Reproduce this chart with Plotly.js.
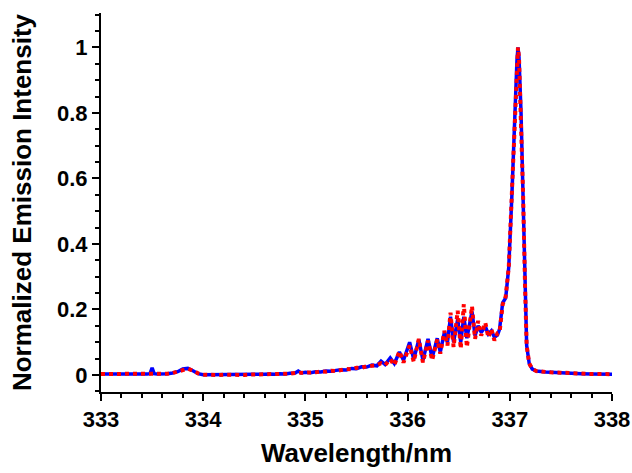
<!DOCTYPE html>
<html>
<head>
<meta charset="utf-8">
<script src="https://cdn.plot.ly/plotly-3.0.1.min.js"></script>
<style>html,body{margin:0;padding:0;background:#fff;}#chart{width:632px;height:473px;}</style>
</head>
<body>
<div id="chart"></div>
<script>
const wavelength = [
333.00,333.05,333.10,333.15,333.20,333.25,333.30,333.35,333.40,333.45,
333.48,333.50,333.52,333.55,333.60,333.65,333.70,333.75,333.80,333.85,
333.90,333.95,334.00,334.05,334.10,334.15,334.20,334.25,334.30,334.35,
334.40,334.45,334.50,334.55,334.60,334.65,334.70,334.75,334.80,334.85,
334.90,334.93,334.96,335.00,335.05,335.10,335.15,335.20,335.25,335.30,
335.35,335.40,335.45,335.50,335.55,335.60,335.65,335.70,335.74,335.78,
335.83,335.87,335.92,335.96,336.02,336.06,336.11,336.15,336.20,336.24,
336.29,336.32,336.36,336.39,336.42,336.45,336.49,336.52,336.55,336.58,
336.63,336.66,336.69,336.72,336.76,336.79,336.82,336.85,336.88,336.90,
336.93,336.96,336.99,337.02,337.05,337.07,337.08,337.09,337.11,337.13,
337.15,337.165,337.19,337.22,337.26,337.30,337.35,337.40,337.50,337.60,
337.70,337.80,337.90,338.00
];
const intensityBlue = [
0.003,0.002,0.003,0.003,0.002,0.003,0.003,0.002,0.003,0.003,
0.004,0.022,0.004,0.003,0.003,0.004,0.006,0.010,0.018,0.020,
0.013,0.004,0.001,0.001,0.001,0.001,0.000,0.001,0.001,0.000,
0.001,0.001,0.001,0.002,0.002,0.003,0.002,0.004,0.003,0.005,
0.006,0.012,0.006,0.008,0.007,0.010,0.009,0.012,0.011,0.014,
0.016,0.015,0.020,0.019,0.025,0.024,0.030,0.028,0.042,0.032,
0.052,0.035,0.070,0.045,0.100,0.048,0.108,0.045,0.110,0.052,
0.112,0.070,0.130,0.100,0.178,0.100,0.170,0.100,0.178,0.112,
0.194,0.120,0.150,0.130,0.148,0.125,0.135,0.115,0.122,0.140,
0.220,0.235,0.330,0.545,0.820,0.960,1.000,0.970,0.800,0.550,
0.260,0.090,0.035,0.018,0.012,0.010,0.009,0.008,0.006,0.005,
0.004,0.003,0.003,0.002
];
const intensityRed = [
0.003,0.003,0.002,0.003,0.003,0.002,0.003,0.003,0.003,0.002,
0.003,0.004,0.003,0.003,0.002,0.004,0.006,0.010,0.017,0.019,
0.013,0.005,0.001,0.000,0.001,0.000,0.001,0.000,0.001,0.001,
0.000,0.001,0.001,0.001,0.002,0.002,0.003,0.003,0.004,0.004,
0.006,0.006,0.008,0.006,0.008,0.008,0.011,0.010,0.013,0.012,
0.015,0.018,0.017,0.022,0.022,0.027,0.028,0.030,0.036,0.030,
0.048,0.030,0.072,0.038,0.090,0.040,0.110,0.038,0.105,0.045,
0.108,0.065,0.135,0.090,0.190,0.085,0.196,0.080,0.216,0.085,
0.210,0.110,0.165,0.120,0.160,0.115,0.140,0.105,0.128,0.130,
0.215,0.240,0.330,0.545,0.820,0.960,1.000,0.970,0.800,0.550,
0.260,0.090,0.035,0.018,0.012,0.010,0.008,0.008,0.007,0.005,
0.004,0.003,0.003,0.002
];
const xTitle = "Wavelength/nm";
const yTitle = "Normalized Emission Intensity";

const fam = "Liberation Sans, Arial, sans-serif";
const traces = [
  {x: wavelength, y: intensityBlue, type: "scatter", mode: "lines",
   line: {color: "#0000ff", width: 3.5}, hoverinfo: "skip"},
  {x: wavelength, y: intensityRed, type: "scatter", mode: "lines",
   line: {color: "#ff0000", width: 4, dash: "dot"}, hoverinfo: "skip"}
];
const axisCommon = {
  showgrid: false, zeroline: false, showline: true, linecolor: "#000", linewidth: 2,
  ticks: "outside", ticklen: 7, tickwidth: 2, tickcolor: "#000",
  tickfont: {family: fam, size: 22, color: "#000", weight: "bold"},
};
const layout = {
  width: 632, height: 473,
  margin: {l: 101, r: 20, t: 13, b: 81},
  paper_bgcolor: "#fff", plot_bgcolor: "#fff",
  showlegend: false,
  xaxis: Object.assign({}, axisCommon, {
    range: [333, 338], dtick: 1, tick0: 333,
    minor: {dtick: 0.2, ticklen: 4, tickwidth: 2, ticks: "outside", tickcolor: "#000"},
    title: {text: xTitle, font: {family: fam, size: 26, color: "#000", weight: "bold"}, standoff: 12}
  }),
  yaxis: Object.assign({}, axisCommon, {
    range: [-0.052, 1.105], dtick: 0.2, tick0: 0,
    minor: {dtick: 0.05, ticklen: 4, tickwidth: 2, ticks: "outside", tickcolor: "#000"},
    title: {text: yTitle, font: {family: fam, size: 26, color: "#000", weight: "bold"}, standoff: 18}
  })
};
Plotly.newPlot("chart", traces, layout, {staticPlot: true, displayModeBar: false});
</script>
</body>
</html>
